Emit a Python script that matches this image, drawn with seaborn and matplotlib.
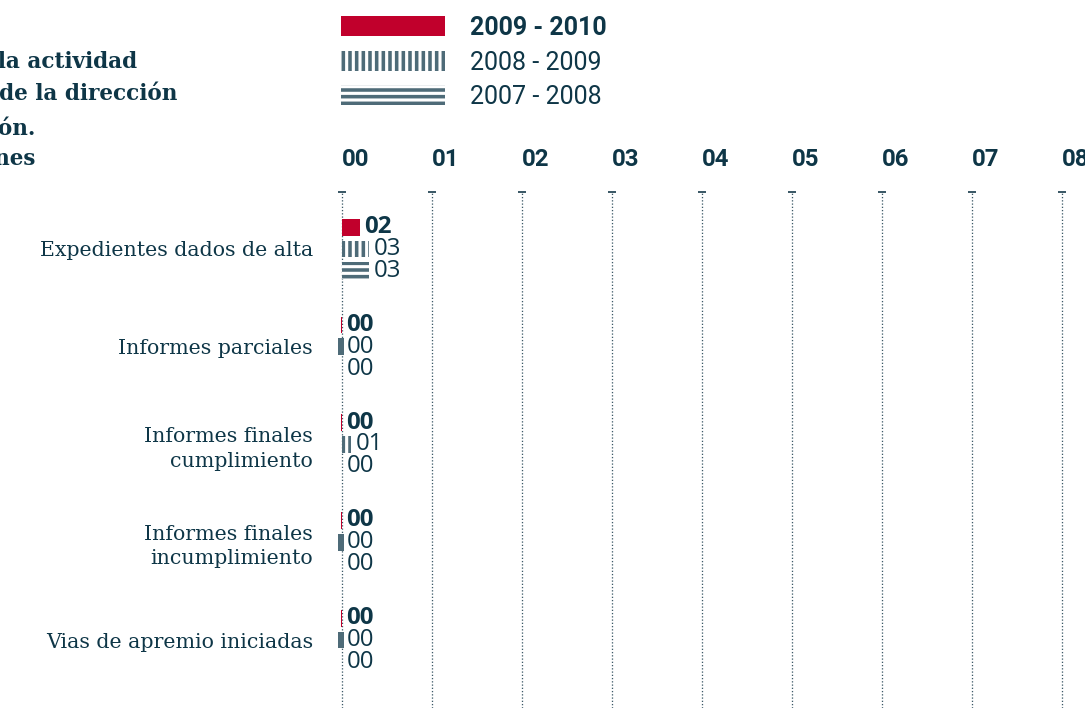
# %%
import numpy as np
import pandas as pd
import matplotlib.pyplot as plt
import seaborn as sns

# %%
# datos
categorias = ['Expedientes dados de alta', 'Informes parciales',
              'Informes finales\ncumplimiento', 'Informes finales\nincumplimiento',
              'Vias de apremio iniciadas']
periodos = ['2009 - 2010', '2008 - 2009', '2007 - 2008']
v_2009_2010 = [2, 0, 0, 0, 0]
v_2008_2009 = [3, 0, 1, 0, 0]
v_2007_2008 = [3, 0, 0, 0, 0]
ticks_x = [0, 10, 20, 30, 40, 50, 60, 70, 80]
tick_labels = ['00', '01', '02', '03', '04', '05', '06', '07', '08']
titulo = ['Resumen de la actividad', 'sancionadora de la dirección',
          'de inspección.', 'Expedientes y resoluciones']

# %%
rojo = '#c1002c'
gris = '#4e6b78'
texto = '#0e3647'
W, H, DPI = 1085, 708, 80
px = lambda p: p * 72 / DPI  # pixels -> points

sns.set_style('white')
plt.rcParams['hatch.linewidth'] = 3.2

df = pd.DataFrame({
    'categoria': categorias * 3,
    'periodo': np.repeat(periodos, len(categorias)),
    'valor': v_2009_2010 + v_2008_2009 + v_2007_2008,
})

fig = plt.figure(figsize=(W / DPI, H / DPI), dpi=DPI)
ax = fig.add_axes([325 / W, 0, (W - 325) / W, 516 / H])

sns.barplot(data=df, y='categoria', x='valor', hue='periodo', hue_order=periodos,
            orient='h', palette=[rojo, gris, gris], width=0.67, gap=0.23,
            errorbar=None, saturation=1, legend=False, ax=ax)

# estilos de cada periodo
estilos = [dict(facecolor=rojo, edgecolor=rojo, hatch=None),
           dict(facecolor='white', edgecolor=gris, hatch='||'),
           dict(facecolor='white', edgecolor=gris, hatch='--')]
# marcas minimas para los valores cero (left, width, color)
stubs = [(-0.1, 0.18, rojo), (-0.35, 0.6, gris), None]

series = [v_2009_2010, v_2008_2009, v_2007_2008]
conts = list(ax.containers)
for cont, est, stub, vals in zip(conts, estilos, stubs, series):
    for p in cont.patches:
        p.set_facecolor(est['facecolor'])
        p.set_edgecolor(est['edgecolor'])
        p.set_hatch(est['hatch'])
        p.set_linewidth(0)
    if stub is not None:
        for p, v in zip(cont.patches, vals):
            if v == 0:
                ax.barh(p.get_y() + p.get_height() / 2, stub[1], left=stub[0],
                        height=p.get_height(), color=stub[2], linewidth=0, zorder=3)

for i, (cont, vals) in enumerate(zip(conts, series)):
    ax.bar_label(cont, labels=[f'{v:02d}' for v in vals], padding=px(5),
                 fontsize=px(24), color=texto, family='Open Sans',
                 fontweight='bold' if i == 0 else 'normal')

ax.set_xlim(-(341.5 - 325) / 9, (W - 341.5) / 9)
ylim_top = -(249 - 192) / 97.75
ax.set_ylim(4 + (708 - 640) / 97.75, ylim_top)
ax.set_xlabel('')
ax.set_ylabel('')
sns.despine(ax=ax, left=True, bottom=True)

ax.xaxis.tick_top()
ax.set_xticks(ticks_x)
ax.set_xticklabels(tick_labels, ha='left', fontsize=px(24), fontweight='bold',
                   color=texto, family='Roboto')
ax.tick_params(axis='x', length=0, pad=px(21))
ax.tick_params(axis='y', length=0, pad=px(12))
for lab in ax.get_yticklabels():
    lab.set_fontfamily('DejaVu Serif')
    lab.set_fontsize(px(20.5))
    lab.set_color(texto)
    lab.set_linespacing(1.35)

ax.grid(axis='x', linestyle=(0, (1, 1.5)), linewidth=px(1.3), color='#3d5a68')
ax.grid(axis='y', visible=False)
ax.set_axisbelow(True)
ax.plot(ticks_x, [ylim_top] * len(ticks_x), ls='none', marker='_', ms=px(8),
        mew=px(2), color='#3d5a68', clip_on=False)

# leyenda
fs = 25
leg = fig.legend(conts, periodos, loc='upper left',
                 bbox_to_anchor=(341 / W, 1 - 16 / H), frameon=False,
                 prop={'family': 'Roboto', 'size': px(fs)},
                 handlelength=104 / fs, handleheight=21 / fs, handletextpad=25 / fs,
                 labelspacing=0.42, borderpad=0, borderaxespad=0)
for i, t in enumerate(leg.get_texts()):
    t.set_color(texto)
    if i == 0:
        t.set_fontweight('bold')

# titulo (cortado por el borde izquierdo)
for linea, xr, yc in zip(titulo, [137, 177, 35, 35], [62, 94, 128, 159]):
    fig.text(xr / W, 1 - yc / H, linea, ha='right', va='center',
             family='DejaVu Serif', fontweight='bold', fontsize=px(21.5), color=texto)

fig.savefig('out.png', dpi=DPI)
